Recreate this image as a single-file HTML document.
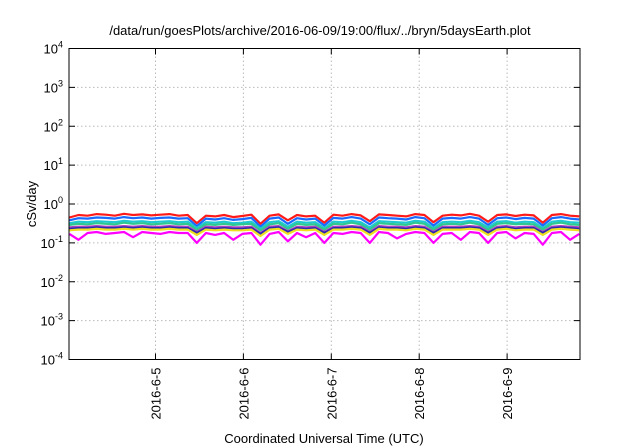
<!DOCTYPE html>
<html><head><meta charset="utf-8"><style>
body{margin:0;background:#fff;}
svg{display:block;font-family:"Liberation Sans",Arial,sans-serif;}
</style></head><body>
<svg id="chart" width="640" height="448" xmlns="http://www.w3.org/2000/svg"></svg>
<script>
const red=[.45,.52,.50,.55,.53,.50,.56,.52,.54,.51,.53,.55,.50,.52,.32,.50,.48,.52,.46,.49,.53,.31,.50,.54,.38,.52,.48,.50,.33,.53,.50,.55,.51,.36,.54,.52,.50,.48,.55,.52,.34,.50,.53,.51,.56,.50,.35,.52,.54,.49,.53,.51,.33,.52,.55,.50,.48];
const blue=[.38,.43,.42,.45,.44,.42,.46,.43,.45,.42,.44,.45,.42,.43,.27,.42,.40,.43,.39,.41,.44,.26,.42,.45,.31,.43,.40,.42,.28,.44,.42,.46,.42,.30,.45,.43,.42,.40,.46,.43,.28,.42,.44,.42,.46,.42,.29,.43,.45,.41,.44,.42,.28,.43,.46,.42,.40];
const cyan=[.32,.35,.34,.36,.35,.34,.37,.35,.36,.34,.35,.36,.34,.35,.24,.34,.33,.35,.32,.33,.35,.23,.34,.36,.26,.35,.33,.34,.24,.35,.34,.37,.34,.25,.36,.35,.34,.33,.37,.35,.24,.34,.35,.34,.37,.34,.25,.35,.36,.33,.35,.34,.24,.35,.37,.34,.33];
const green=[.29,.31,.30,.32,.31,.30,.33,.31,.32,.30,.31,.32,.30,.31,.22,.30,.29,.31,.29,.30,.31,.21,.30,.32,.23,.31,.29,.30,.22,.31,.30,.33,.30,.22,.32,.31,.30,.29,.33,.31,.22,.30,.31,.30,.33,.30,.22,.31,.32,.30,.31,.30,.22,.31,.33,.30,.29];
const purple=[.25,.26,.26,.27,.26,.26,.27,.26,.27,.26,.26,.27,.26,.26,.19,.26,.25,.26,.25,.25,.26,.18,.26,.27,.20,.26,.25,.26,.19,.26,.26,.27,.26,.19,.27,.26,.26,.25,.27,.26,.19,.26,.26,.26,.27,.26,.19,.26,.27,.25,.26,.26,.19,.26,.27,.26,.25];
const navy=[.23,.24,.24,.25,.24,.24,.25,.24,.25,.24,.24,.25,.24,.24,.18,.24,.23,.24,.23,.23,.24,.17,.24,.25,.19,.24,.23,.24,.18,.24,.24,.25,.24,.18,.25,.24,.24,.23,.25,.24,.18,.24,.24,.24,.25,.24,.18,.24,.25,.23,.24,.24,.18,.24,.25,.24,.23];
const yellow=[.21,.22,.22,.23,.22,.22,.23,.22,.23,.22,.22,.23,.22,.22,.16,.22,.21,.22,.21,.21,.22,.15,.22,.23,.17,.22,.21,.22,.16,.22,.22,.23,.22,.16,.23,.22,.22,.21,.23,.22,.16,.22,.22,.22,.23,.22,.16,.22,.23,.21,.22,.22,.16,.22,.23,.22,.21];
const magenta=[.17,.12,.18,.19,.17,.18,.19,.14,.19,.18,.17,.19,.18,.18,.10,.18,.16,.18,.12,.17,.18,.09,.17,.19,.11,.18,.14,.18,.10,.18,.17,.19,.18,.10,.19,.18,.13,.17,.19,.18,.10,.17,.18,.12,.19,.18,.10,.18,.19,.13,.18,.17,.09,.18,.19,.12,.17];
const seriesNames=["red","blue","cyan","green","purple","navy","yellow","magenta"];
const seriesColors=["#ff1a1a","#1a6aff","#20c8d0","#30c890","#b040c0","#2a2ab0","#f0e020","#ff00ff"];
const seriesData=[red,blue,cyan,green,purple,navy,yellow,magenta];
const xTickLabels=["2016-6-5","2016-6-6","2016-6-7","2016-6-8","2016-6-9"];
const xTickDays=[1,2,3,4,5];
const yTickExps=[-4,-3,-2,-1,0,1,2,3,4];

const L=69,R=580,T=48.5,B=359.5;
const xs=d=>155.5+(d-1)*87.9;
const ys=v=>B-(Math.log10(v)+4)*(B-T)/8;
const tAt=i=>0.02+i*(5.8/56);
const svg=document.getElementById('chart');
const NS="http://www.w3.org/2000/svg";
function mk(tag,attrs,parent){const e=document.createElementNS(NS,tag);for(const k in attrs)e.setAttribute(k,attrs[k]);(parent||svg).appendChild(e);return e;}

let t=mk('text',{x:320,y:35,'text-anchor':'middle','font-size':13,fill:'#000'});


t.textContent='/data/run/goesPlots/archive/2016-06-09/19:00/flux/../bryn/5daysEarth.plot';

const grid=mk('g',{});


yTickExps.forEach(e=>{
  const y=ys(Math.pow(10,e));
  if(e>-4&&e<4) mk('line',{x1:L,x2:R,y1:y,y2:y,stroke:'#bbb','stroke-dasharray':'1.5,2.5','stroke-width':1},grid);
  const tk=mk('line',{x1:L,x2:L+6,y1:y,y2:y,stroke:'#000'});
  
  
  mk('line',{x1:R,x2:R-6,y1:y,y2:y,stroke:'#000'});
  const lab=mk('text',{x:L-6,y:y+5,'text-anchor':'end','font-size':13});
  
  
  lab.innerHTML='10<tspan dy="-6" font-size="9">'+e+'</tspan>';
});
xTickDays.forEach((d,i)=>{
  const x=xs(d);
  mk('line',{x1:x,x2:x,y1:T,y2:B,stroke:'#bbb','stroke-dasharray':'1.5,2.5'},grid);
  mk('line',{x1:x,x2:x,y1:B,y2:B-6,stroke:'#000'});
  mk('line',{x1:x,x2:x,y1:T,y2:T+6,stroke:'#000'});
  const lab=mk('text',{x:0,y:0,'text-anchor':'end','font-size':13,transform:`translate(${x+5},${B+8}) rotate(-90)`});
  
  
  lab.textContent=xTickLabels[i];
});

seriesData.forEach((arr,s)=>{
  const pts=arr.map((v,i)=>xs(tAt(i)).toFixed(1)+','+ys(v).toFixed(1)).join(' ');
  const pl=mk('polyline',{points:pts,fill:'none',stroke:seriesColors[s],'stroke-width':2.2,'stroke-linejoin':'round'});
  
  
});

const frame=mk('rect',{x:L,y:T,width:R-L,height:B-T,fill:'none',stroke:'#000','stroke-width':1});



const yl=mk('text',{x:0,y:0,'text-anchor':'middle','font-size':13,transform:'translate(36,204) rotate(-90)'});


yl.textContent='cSv/day';
const xl=mk('text',{x:324,y:443,'text-anchor':'middle','font-size':13});


xl.textContent='Coordinated Universal Time (UTC)';
</script>
</body></html>
